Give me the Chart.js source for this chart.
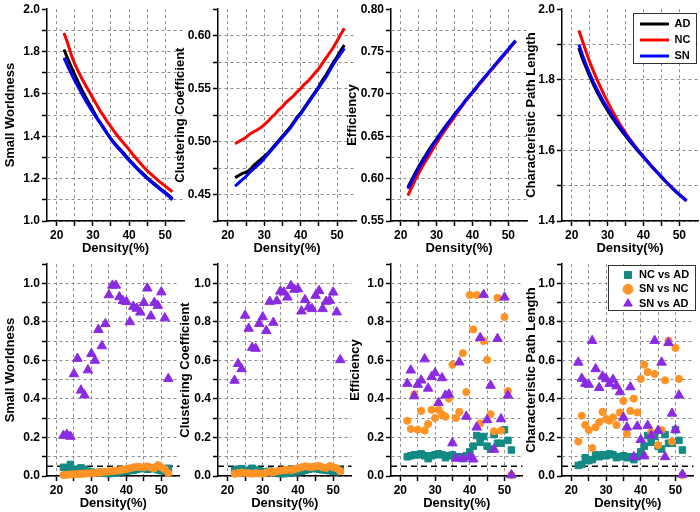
<!DOCTYPE html>
<html><head><meta charset="utf-8">
<script src="https://cdn.jsdelivr.net/npm/chart.js@4"></script>
<style>
html,body{margin:0;padding:0;background:#fff;}
#wrap{position:relative;width:700px;height:512px;overflow:hidden;background:#fff;}
canvas{position:absolute;}
</style></head><body><div id="wrap"></div>
<script>
// ---------- data ----------
const density = [22,23,24,25,26,27,28,29,30,31,32,33,34,35,36,37,38,39,40,41,42,43,44,45,46,47,48,49,50,51,52];
const groupNames = ['AD','NC','SN'];
const compNames = ['NC vs AD','SN vs NC','SN vs AD'];
const xGridTicks = [20,25,30,35,40,45,50];
const xLabelTicks = [20,30,40,50];
const pThreshold = 0.05;

// top row: network metrics
const swAD = [1.810,1.768,1.728,1.690,1.653,1.618,1.585,1.554,1.524,1.490,1.465,1.440,1.413,1.389,1.367,1.348,1.330,1.310,1.291,1.272,1.254,1.237,1.221,1.205,1.190,1.176,1.162,1.148,1.135,1.121,1.106];
const swNC = [1.888,1.840,1.785,1.740,1.705,1.670,1.640,1.610,1.580,1.550,1.520,1.495,1.468,1.445,1.420,1.398,1.378,1.358,1.337,1.315,1.295,1.275,1.256,1.238,1.222,1.207,1.192,1.178,1.165,1.151,1.138];
const swSN = [1.770,1.733,1.696,1.662,1.630,1.598,1.568,1.540,1.513,1.487,1.462,1.436,1.410,1.386,1.363,1.343,1.325,1.305,1.286,1.268,1.250,1.233,1.217,1.201,1.186,1.172,1.158,1.144,1.131,1.117,1.100];

const ccAD = [0.466,0.468,0.470,0.471,0.473,0.477,0.480,0.483,0.486,0.489,0.493,0.497,0.501,0.505,0.509,0.513,0.518,0.523,0.527,0.532,0.537,0.542,0.547,0.552,0.558,0.563,0.569,0.575,0.580,0.586,0.591];
const ccNC = [0.498,0.500,0.502,0.504,0.507,0.509,0.511,0.513,0.516,0.519,0.523,0.526,0.530,0.533,0.537,0.540,0.543,0.547,0.550,0.554,0.557,0.561,0.565,0.569,0.574,0.579,0.584,0.589,0.595,0.601,0.607];
const ccSN = [0.458,0.461,0.464,0.467,0.471,0.474,0.477,0.480,0.484,0.488,0.492,0.496,0.500,0.504,0.508,0.512,0.517,0.522,0.526,0.531,0.536,0.541,0.546,0.551,0.556,0.561,0.567,0.573,0.578,0.583,0.588];

const efAD = [0.590,0.598,0.606,0.614,0.621,0.628,0.635,0.641,0.647,0.653,0.659,0.665,0.670,0.676,0.681,0.686,0.692,0.697,0.702,0.707,0.712,0.717,0.722,0.727,0.732,0.737,0.742,0.747,0.752,0.757,0.762];
const efNC = [0.580,0.589,0.598,0.606,0.614,0.621,0.628,0.635,0.642,0.649,0.655,0.661,0.667,0.673,0.679,0.685,0.691,0.696,0.701,0.706,0.712,0.717,0.722,0.727,0.732,0.737,0.742,0.747,0.752,0.757,0.762];
const efSN = [0.588,0.596,0.604,0.612,0.619,0.626,0.633,0.640,0.646,0.652,0.658,0.664,0.670,0.675,0.681,0.686,0.692,0.697,0.702,0.707,0.713,0.718,0.723,0.728,0.733,0.738,0.743,0.748,0.753,0.758,0.763];

const cplAD = [1.890,1.860,1.835,1.810,1.788,1.767,1.748,1.730,1.713,1.697,1.682,1.668,1.654,1.641,1.628,1.616,1.604,1.592,1.581,1.570,1.558,1.547,1.536,1.525,1.514,1.504,1.494,1.484,1.475,1.466,1.457];
const cplNC = [1.940,1.910,1.880,1.851,1.826,1.802,1.780,1.758,1.738,1.718,1.700,1.682,1.665,1.650,1.635,1.621,1.607,1.594,1.582,1.570,1.558,1.547,1.536,1.525,1.514,1.504,1.494,1.484,1.475,1.466,1.457];
const cplSN = [1.900,1.870,1.843,1.818,1.795,1.774,1.755,1.736,1.719,1.703,1.688,1.673,1.659,1.645,1.632,1.619,1.606,1.594,1.582,1.570,1.558,1.547,1.536,1.525,1.514,1.504,1.494,1.484,1.475,1.466,1.457];

// bottom row: p-values of group comparisons
const pSwNCvsAD = [0.045,0.043,0.060,0.035,0.028,0.042,0.035,0.025,0.020,0.018,0.018,0.020,0.015,0.012,0.015,0.018,0.020,0.022,0.025,0.028,0.030,0.035,0.038,0.040,0.035,0.038,0.040,0.032,0.028,0.025,0.040];
const pSwSNvsNC = [0.005,0.006,0.008,0.009,0.010,0.011,0.012,0.014,0.015,0.016,0.018,0.020,0.022,0.024,0.026,0.028,0.030,0.033,0.036,0.040,0.045,0.048,0.046,0.045,0.050,0.044,0.040,0.056,0.045,0.035,0.015];
const pSwSNvsAD = [0.210,0.215,0.205,0.530,0.610,0.445,0.420,0.550,0.635,0.600,0.760,0.675,0.790,0.940,0.990,0.990,0.930,0.910,0.905,0.800,0.880,0.870,0.850,0.900,0.975,0.830,0.900,0.885,0.955,0.820,0.505];

const pCcNCvsAD = [0.030,0.035,0.038,0.025,0.030,0.040,0.032,0.028,0.020,0.022,0.025,0.020,0.015,0.012,0.012,0.015,0.018,0.020,0.022,0.025,0.030,0.035,0.038,0.040,0.035,0.032,0.030,0.028,0.025,0.022,0.030];
const pCcSNvsNC = [0.012,0.015,0.018,0.016,0.014,0.012,0.015,0.013,0.012,0.018,0.022,0.020,0.025,0.028,0.030,0.032,0.030,0.035,0.040,0.045,0.050,0.048,0.046,0.050,0.052,0.045,0.042,0.052,0.045,0.040,0.025];
const pCcSNvsAD = [0.496,0.583,0.556,0.834,0.766,0.667,0.662,0.791,0.826,0.754,0.906,0.797,0.909,0.959,0.954,0.928,0.988,0.969,0.971,0.856,0.915,0.877,0.868,0.937,0.962,0.868,0.906,0.911,0.954,0.851,0.603];

const pEfNCvsAD = [0.100,0.105,0.110,0.110,0.115,0.105,0.090,0.105,0.110,0.115,0.110,0.095,0.105,0.110,0.100,0.100,0.090,0.105,0.125,0.155,0.210,0.175,0.205,0.155,0.140,0.215,0.170,0.170,0.240,0.185,0.135];
const pEfSNvsNC = [0.287,0.244,0.424,0.241,0.338,0.236,0.270,0.344,0.301,0.344,0.321,0.308,0.402,0.578,0.301,0.333,0.638,0.436,0.940,0.761,0.940,0.273,0.701,0.603,0.321,0.232,0.925,0.236,0.826,0.441,0.005];
const pEfSNvsAD = [0.480,0.549,0.415,0.475,0.497,0.607,0.455,0.515,0.535,0.381,0.509,0.419,0.424,0.171,0.091,0.591,0.091,0.309,0.099,0.087,0.253,0.718,0.942,0.291,0.470,0.138,0.713,0.296,0.928,0.419,0.005];

const pCplNCvsAD = [0.055,0.060,0.095,0.080,0.085,0.110,0.100,0.110,0.105,0.115,0.110,0.095,0.100,0.105,0.095,0.100,0.085,0.100,0.125,0.155,0.210,0.175,0.205,0.155,0.140,0.215,0.170,0.170,0.240,0.185,0.135];
const pCplSNvsNC = [0.179,0.313,0.265,0.239,0.145,0.253,0.279,0.333,0.296,0.287,0.304,0.265,0.330,0.390,0.219,0.338,0.402,0.330,0.504,0.578,0.540,0.227,0.530,0.160,0.239,0.497,0.703,0.179,0.665,0.504,0.005];
const pCplSNvsAD = [0.590,0.506,0.480,0.475,0.703,0.556,0.458,0.518,0.504,0.480,0.501,0.467,0.436,0.304,0.253,0.462,0.099,0.258,0.188,0.103,0.262,0.210,0.703,0.236,0.590,0.099,0.692,0.325,0.240,0.419,0.008];

// ---------- styling ----------
const X_MIN = 17.3, X_MAX = 55.2;
const FONT = 'Liberation Sans, Arial, Helvetica, sans-serif';
const tickFont = {family: FONT, size: 12, weight: 'bold'};
const titleFont = {family: FONT, size: 13, weight: 'bold'};
const legendFont = {family: FONT, size: 11, weight: 'bold'};
const GRID = '#8c8c8c';
const lineColors = ['#000000', '#ff0000', '#0000ff'];
const lineOrder = [3, 2, 1];
const markerColors = ['#138a83', '#ff9326', '#8a2be2'];
const markerStyles = ['rect', 'circle', 'triangle'];
const markerRadius = [4.6, 3.6, 5.5];
const markerOrder = [3, 2, 1];
const THRESH_LABEL = 'p = 0.05';

const pts = (ys) => density.map((x, i) => ({x, y: ys[i]}));

// moves the Chart.js legend to a fixed spot inside the plot and frames it
const legendPlacer = {
  id: 'legendPlacer',
  afterLayout(chart, args, opts) {
    const lg = chart.legend;
    if (!lg || !opts || opts.left == null) return;
    const h = lg.height;
    lg.left = opts.left; lg.top = opts.top;
    lg.right = lg.left + lg.width; lg.bottom = lg.top + h;
  },
  afterDraw(chart, args, opts) {
    if (!opts || !opts.box) return;
    const ctx = chart.ctx, b = opts.box;
    ctx.save();
    ctx.fillStyle = '#fff';
    ctx.fillRect(b[0] + 0.5, b[1] + 0.5, b[2] - b[0], b[3] - b[1]);
    ctx.restore();
    if (chart.legend) chart.legend.draw();
    ctx.save();
    ctx.strokeStyle = '#333';
    ctx.lineWidth = 1;
    ctx.strokeRect(b[0] + 0.5, b[1] + 0.5, b[2] - b[0], b[3] - b[1]);
    ctx.restore();
  }
};

function lineSets(series) {
  return series.map((ys, i) => ({
    label: groupNames[i], data: pts(ys), showLine: true,
    borderColor: lineColors[i], backgroundColor: lineColors[i],
    borderWidth: 3, pointRadius: 0, pointBorderWidth: 3, pointHoverRadius: 0,
    order: lineOrder[i], clip: false
  }));
}
function pointSets(series) {
  const sets = series.map((ys, i) => ({
    label: compNames[i], data: pts(ys), showLine: false,
    pointStyle: markerStyles[i], pointRadius: markerRadius[i],
    backgroundColor: markerColors[i], borderColor: markerColors[i],
    pointBorderWidth: 1, order: markerOrder[i], clip: false
  }));
  sets.push({
    label: THRESH_LABEL, data: [{x: X_MIN, y: pThreshold}, {x: X_MAX, y: pThreshold}],
    showLine: true, borderColor: '#000', backgroundColor: '#000', borderWidth: 1.5,
    borderDash: [6, 4], pointRadius: 0, pointBorderWidth: 0, order: 4, clip: false
  });
  return sets;
}

const byIndex = (a, b) => a.datasetIndex - b.datasetIndex;

function makePanel(p) {
  const wrap = document.getElementById('wrap');
  const cv = document.createElement('canvas');
  cv.width = p.width; cv.height = p.height;
  cv.style.left = p.left + 'px'; cv.style.top = p.top + 'px';
  cv.style.width = p.width + 'px'; cv.style.height = p.height + 'px';
  wrap.appendChild(cv);
  const yMax = p.yMax;
  const legendOpts = p.legend ? p.legend : {display: false};
  new Chart(cv, {
    type: 'scatter',
    data: {datasets: p.datasets},
    plugins: [legendPlacer],
    options: {
      responsive: false, animation: false, devicePixelRatio: 1, events: [],
      layout: {padding: {top: p.padTop, right: p.padRight, bottom: 0, left: 0}},
      plugins: {
        legend: legendOpts,
        tooltip: {enabled: false},
        legendPlacer: p.placer || {}
      },
      scales: {
        x: {
          type: 'linear', min: X_MIN, max: X_MAX,
          afterBuildTicks: (s) => { s.ticks = xGridTicks.map(v => ({value: v})); },
          afterFit: (s) => { s.height = 35; },
          ticks: {callback: (v) => xLabelTicks.includes(v) ? String(v) : '', font: tickFont, color: '#000', padding: 2, maxRotation: 0, autoSkip: false},
          grid: {color: GRID, lineWidth: 1, tickColor: '#000', tickLength: 5, tickWidth: 1.5, tickBorderDash: []},
          border: {display: true, color: '#000', width: 1.5, dash: [3, 3]},
          title: {display: true, text: 'Density(%)', font: titleFont, color: '#000', padding: {top: 0, bottom: 0}}
        },
        y: {
          type: 'linear', min: p.yMin, max: p.yMax,
          afterFit: (s) => { s.width = p.yW; },
          ticks: {
            stepSize: p.yStep, autoSkip: false, font: tickFont, color: '#000', padding: 2,
            callback: (v) => {
              const m = Math.round(v * 1000);
              if (m % p.labelEvery === 0 && v <= p.labelMax + 1e-9) return v.toFixed(p.dec);
              return '';
            }
          },
          grid: {
            color: (c) => (c.tick && Math.abs(c.tick.value - yMax) < 1e-9) ? 'rgba(0,0,0,0)' : GRID,
            lineWidth: 1, tickColor: '#000', tickLength: 5, tickWidth: 1.5, tickBorderDash: []
          },
          border: {display: true, color: '#000', width: 1.5, dash: [3, 3]},
          title: {display: true, text: p.yTitle, font: titleFont, color: '#000', padding: {top: p.titlePad, bottom: 0}}
        }
      }
    }
  });
}

const lefts = [0, 172, 344, 515];
const widths = [186, 186, 185, 185];
const yWs = [47, 46, 47, 47];

// top row
const topCfg = [
  {yTitle: 'Small Worldness', yMin: 1.0, yMax: 2.0, yStep: 0.1, labelEvery: 200, labelMax: 2.0, dec: 1, titlePad: 3, series: [swAD, swNC, swSN]},
  {yTitle: 'Clustering Coefficient', yMin: 0.425, yMax: 0.625, yStep: 0.025, labelEvery: 50, labelMax: 0.6, dec: 2, titlePad: 1, series: [ccAD, ccNC, ccSN]},
  {yTitle: 'Efficiency', yMin: 0.55, yMax: 0.80, yStep: 0.025, labelEvery: 50, labelMax: 0.8, dec: 2, titlePad: 1, series: [efAD, efNC, efSN]},
  {yTitle: 'Characteristic Path Length', yMin: 1.4, yMax: 2.0, yStep: 0.1, labelEvery: 200, labelMax: 2.0, dec: 1, titlePad: 9, series: [cplAD, cplNC, cplSN]}
];
topCfg.forEach((c, i) => {
  const p = Object.assign({}, c, {
    left: lefts[i], top: 0, width: widths[i], height: 256, yW: yWs[i],
    padTop: 7, padRight: 2, datasets: lineSets(c.series)
  });
  if (i === 3) {
    p.legend = {display: true, position: 'chartArea', align: 'start',
      labels: {usePointStyle: true, pointStyle: 'line', pointStyleWidth: 29, boxHeight: 11, font: legendFont, color: '#000', padding: 5, sort: byIndex}};
    p.placer = {left: 635 - 515, top: 13.5, box: [633 - 515, 13, 696 - 515, 63]};
  }
  makePanel(p);
});

// bottom row
const botCfg = [
  {yTitle: 'Small Worldness', titlePad: 3, series: [pSwNCvsAD, pSwSNvsNC, pSwSNvsAD]},
  {yTitle: 'Clustering Coefficient', titlePad: 6, series: [pCcNCvsAD, pCcSNvsNC, pCcSNvsAD]},
  {yTitle: 'Efficiency', titlePad: 4, series: [pEfNCvsAD, pEfSNvsNC, pEfSNvsAD]},
  {yTitle: 'Characteristic Path Length', titlePad: 9, series: [pCplNCvsAD, pCplSNvsNC, pCplSNvsAD]}
];
botCfg.forEach((c, i) => {
  const p = Object.assign({}, c, {
    left: lefts[i], top: 255, width: widths[i], height: 256, yW: yWs[i],
    yMin: 0, yMax: 1.1, yStep: 0.1, labelEvery: 200, labelMax: 1.0, dec: 1,
    padTop: 7, padRight: 2, datasets: pointSets(c.series)
  });
  if (i === 3) {
    p.legend = {display: true, position: 'chartArea', align: 'start',
      labels: {usePointStyle: true, boxHeight: 7, font: legendFont, color: '#000', padding: 3.3, sort: byIndex,
        filter: (item) => item.text !== THRESH_LABEL}};
    p.placer = {left: 619.2 - 515, top: 11.2, box: [608 - 515, 10, 695 - 515, 55]};
  }
  makePanel(p);
});
</script>
</body></html>
